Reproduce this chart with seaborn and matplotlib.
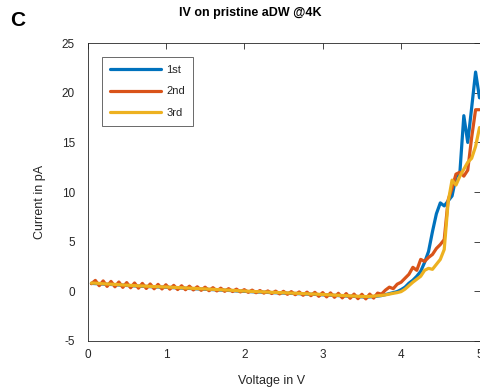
import matplotlib
matplotlib.use("Agg")
import matplotlib.pyplot as plt
import seaborn as sns
import pandas as pd

voltage = [0.05, 0.10, 0.15, 0.20, 0.25, 0.30, 0.35, 0.40, 0.45, 0.50,
           0.55, 0.60, 0.65, 0.70, 0.75, 0.80, 0.85, 0.90, 0.95, 1.00,
           1.05, 1.10, 1.15, 1.20, 1.25, 1.30, 1.35, 1.40, 1.45, 1.50,
           1.55, 1.60, 1.65, 1.70, 1.75, 1.80, 1.85, 1.90, 1.95, 2.00,
           2.05, 2.10, 2.15, 2.20, 2.25, 2.30, 2.35, 2.40, 2.45, 2.50,
           2.55, 2.60, 2.65, 2.70, 2.75, 2.80, 2.85, 2.90, 2.95, 3.00,
           3.05, 3.10, 3.15, 3.20, 3.25, 3.30, 3.35, 3.40, 3.45, 3.50,
           3.55, 3.60, 3.65, 3.70, 3.75, 3.80, 3.85, 3.90, 3.95, 4.00,
           4.05, 4.10, 4.15, 4.20, 4.25, 4.30, 4.35, 4.40, 4.45, 4.50,
           4.55, 4.60, 4.65, 4.70, 4.75, 4.80, 4.85, 4.90, 4.95, 5.00]

run_1st = [0.78, 0.76, 0.74, 0.71, 0.69, 0.67, 0.65, 0.62, 0.60, 0.57,
           0.55, 0.53, 0.50, 0.49, 0.47, 0.45, 0.43, 0.42, 0.40, 0.39,
           0.37, 0.35, 0.33, 0.31, 0.29, 0.27, 0.25, 0.23, 0.21, 0.19,
           0.17, 0.15, 0.13, 0.11, 0.09, 0.07, 0.05, 0.02, 0.00, -0.02,
           -0.04, -0.06, -0.08, -0.09, -0.11, -0.13, -0.15, -0.16, -0.18, -0.19,
           -0.21, -0.23, -0.24, -0.26, -0.28, -0.30, -0.32, -0.33, -0.35, -0.37,
           -0.39, -0.41, -0.43, -0.45, -0.47, -0.49, -0.51, -0.53, -0.55, -0.58,
           -0.60, -0.58, -0.55, -0.50, -0.45, -0.35, -0.25, -0.15, -0.05, 0.15,
           0.40, 0.80, 1.10, 1.50, 2.00, 2.90, 4.00, 6.00, 7.80, 8.90,
           8.60, 9.10, 9.60, 11.5, 12.0, 17.7, 15.0, 18.5, 22.1, 19.5]

run_2nd = [0.75, 1.08, 0.55, 1.03, 0.48, 0.98, 0.44, 0.92, 0.38, 0.86,
           0.34, 0.82, 0.30, 0.78, 0.27, 0.72, 0.24, 0.68, 0.22, 0.64,
           0.20, 0.58, 0.16, 0.54, 0.14, 0.50, 0.12, 0.44, 0.08, 0.40,
           0.04, 0.35, 0.02, 0.30, -0.02, 0.25, -0.04, 0.20, -0.08, 0.15,
           -0.12, 0.10, -0.16, 0.06, -0.20, 0.02, -0.24, 0.00, -0.28, -0.02,
           -0.32, -0.05, -0.36, -0.08, -0.42, -0.10, -0.46, -0.12, -0.52, -0.15,
           -0.58, -0.18, -0.62, -0.22, -0.68, -0.25, -0.72, -0.30, -0.76, -0.32,
           -0.78, -0.30, -0.70, -0.20, -0.30, 0.10, 0.40, 0.25, 0.70, 0.90,
           1.30, 1.70, 2.40, 2.10, 3.20, 3.00, 3.40, 3.70, 4.30, 4.70,
           5.20, 9.20, 10.4, 11.8, 12.0, 11.6, 12.2, 15.5, 18.3, 18.3]

run_3rd = [0.82, 0.80, 0.78, 0.74, 0.72, 0.70, 0.68, 0.65, 0.62, 0.60,
           0.58, 0.56, 0.53, 0.52, 0.50, 0.48, 0.46, 0.45, 0.43, 0.42,
           0.40, 0.38, 0.36, 0.34, 0.32, 0.30, 0.28, 0.26, 0.24, 0.22,
           0.20, 0.18, 0.16, 0.14, 0.12, 0.10, 0.08, 0.05, 0.03, 0.01,
           -0.01, -0.03, -0.05, -0.06, -0.08, -0.10, -0.12, -0.13, -0.15, -0.16,
           -0.18, -0.20, -0.21, -0.23, -0.25, -0.27, -0.29, -0.30, -0.32, -0.34,
           -0.36, -0.38, -0.40, -0.42, -0.44, -0.46, -0.48, -0.50, -0.52, -0.54,
           -0.55, -0.53, -0.50, -0.47, -0.43, -0.38, -0.30, -0.22, -0.15, -0.05,
           0.20, 0.55, 0.90, 1.20, 1.50, 2.10, 2.30, 2.20, 2.70, 3.20,
           4.20, 9.00, 11.2, 10.7, 11.6, 12.3, 13.0, 13.4, 14.6, 16.5]

run_labels = ["1st", "2nd", "3rd"]
x_ticks = [0, 1, 2, 3, 4, 5]
y_ticks = [-5, 0, 5, 10, 15, 20, 25]

frames = []
for lab, vals in zip(run_labels, [run_1st, run_2nd, run_3rd]):
    frames.append(pd.DataFrame({"Voltage": voltage, "Current": vals, "Run": lab}))
df = pd.concat(frames, ignore_index=True)

sns.set_style("white")
plt.rcParams["font.family"] = ["Liberation Sans", "DejaVu Sans"]

palette = {"1st": "#0072BD", "2nd": "#D95319", "3rd": "#EDB120"}

fig = plt.figure(figsize=(4.8, 3.91), dpi=100)
W, H = 480, 391
ax = fig.add_axes([87.5 / W, 1 - 340.7 / H, (479.5 - 87.5) / W, (340.7 - 43.3) / H])

sns.lineplot(data=df, x="Voltage", y="Current", hue="Run", palette=palette,
             linewidth=2.3, ax=ax, sort=False, estimator=None, legend=True)

ax.set_xlim(0, 5)
ax.set_ylim(-5, 25)
ax.set_xticks(x_ticks)
ax.set_yticks(y_ticks)
ax.set_xticklabels([str(t) for t in x_ticks])
ax.set_yticklabels([str(t) for t in y_ticks])
ax.tick_params(axis="both", direction="in", length=4, width=0.6, color="#262626",
               labelsize=8.5, labelcolor="#262626", top=True, right=True)
ax.tick_params(axis="x", pad=6)
ax.tick_params(axis="y", pad=9)
for s in ax.spines.values():
    s.set_visible(True)
    s.set_color("#262626")
    s.set_linewidth(0.6)

ax.set_xlabel("")
ax.set_ylabel("")
fig.text(272 / W, 1 - 381 / H, "Voltage in V", ha="center", va="center",
         fontsize=9, color="#262626")
fig.text(40 / W, 1 - 202 / H, "Current in pA", ha="center", va="center",
         fontsize=9, color="#262626", rotation=90)
fig.text(250 / W, 1 - 13 / H, "IV on pristine aDW @4K", ha="center", va="center",
         fontsize=9, fontweight="bold", color="#000000")
fig.text(10 / W, 1 - 20 / H, "C", ha="left", va="center",
         fontsize=15, fontweight="bold", color="#000000")

handles, labels = ax.get_legend_handles_labels()
leg = ax.legend(handles, labels, loc="upper left",
                bbox_to_anchor=((102 - 87.5) / 392, (340.7 - 57) / 297.4),
                borderaxespad=0, frameon=True, fancybox=False, fontsize=8,
                handlelength=4.6, labelspacing=1.05, handletextpad=0.5,
                borderpad=0.7)
leg.get_frame().set_edgecolor("#262626")
leg.get_frame().set_linewidth(0.6)
for l in leg.get_lines():
    l.set_linewidth(2.3)

fig.savefig("out.png", dpi=100)
